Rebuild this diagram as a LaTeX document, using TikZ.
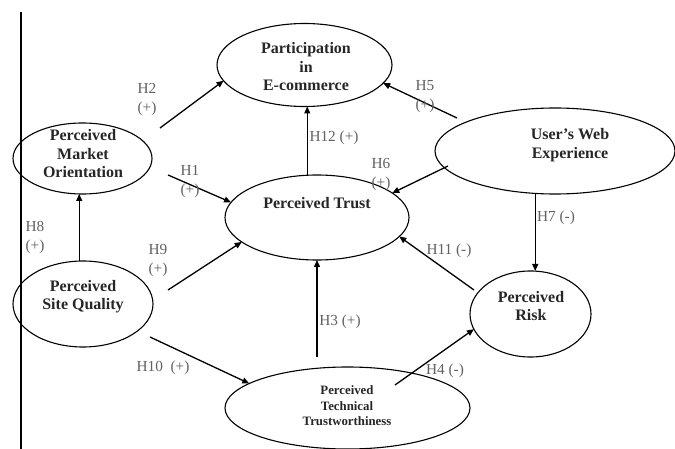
\documentclass[tikz,border=0pt]{standalone}
\usepackage{fontspec}
\setmainfont{Liberation Serif}
\usetikzlibrary{arrows.meta,shapes.geometric}
\begin{document}
\begin{tikzpicture}[x=1pt,y=-1pt,
 ell/.style={draw, ellipse, line width=1.1pt, inner sep=0pt, outer sep=0pt},
 ttl/.style={align=center, font=\fontsize{16}{18.5}\selectfont\bfseries, text=black!85, inner sep=0pt},
 smallttl/.style={align=center, font=\fontsize{12.8}{15.5}\selectfont\bfseries, text=black!85, inner sep=0pt},
 hyp/.style={font=\fontsize{15.3}{19}\selectfont, text=black!62, align=center, inner sep=0pt},
 arr/.style={line width=1.3pt, -{Triangle[length=7pt,width=6pt]}}]

\useasboundingbox (0,0) rectangle (675,449);

% frame line
\coordinate (vt) at (21,12);
\coordinate (vb) at (21,449);
\draw[line width=1.3pt] (vt) -- (vb);

% ellipses
\node[ell, minimum width=175pt, minimum height=83pt] (part) at (304.5,65) {};
\node[ttl] (partt) at (306,67) {Participation\\in\\E-commerce};

\node[ell, minimum width=139pt, minimum height=71pt] (mo) at (82.5,158.5) {};
\node[ttl] (mot) at (83,154) {Perceived\\Market\\Orientation};

\node[ell, minimum width=240pt, minimum height=86pt] (web) at (555,151) {};
\node[ttl] (webt) at (570,145) {User's Web\\Experience};

\node[ell, minimum width=184pt, minimum height=85pt] (trust) at (317,217.5) {};
\node[ttl] (trustt) at (317,203) {Perceived Trust};

\node[ell, minimum width=140pt, minimum height=86pt] (sq) at (83,304) {};
\node[ttl] (sqt) at (83,296.5) {Perceived\\Site Quality};

\node[ell, minimum width=121pt, minimum height=86pt] (risk) at (530.5,314) {};
\node[ttl] (riskt) at (531,306) {Perceived\\Risk};

\node[ell, minimum width=245pt, minimum height=82pt] (tech) at (347.5,408) {};
\node[smallttl] (techt) at (347,406) {Perceived\\Technical\\Trustworthiness};

% free start points
\coordinate (h2s) at (160,128);
\coordinate (h1s) at (168,175);
\coordinate (h5s) at (457,118);
\coordinate (h6s) at (448,166);
\coordinate (h9s) at (168,290);
\coordinate (h10s) at (150,337);
\coordinate (h3s) at (317,357);
\coordinate (h11s) at (474,290);
\coordinate (h4s) at (395,385);

% arrows
\draw[arr] (h2s) -- (part.191);
\draw[arr] (h5s) -- (part.347);
\draw[arr] (trust.103) -- (trust.103 |- part.south);
\draw[arr] (h1s) -- (trust.170);
\draw[arr] (h6s) -- (trust.18);
\draw[arr] (h9s) -- (trust.198);
\draw[arr] (h11s) -- (trust.347);
\draw[arr] (h3s) -- (h3s |- trust.south);
\draw[arr] (web.245) -- (web.245 |- risk.north);
\draw[arr] (sq.95) -- (sq.95 |- mo.south);
\draw[arr] (h10s) -- (tech.166);
\draw[arr] (h4s) -- (risk.195);

% hypothesis labels
\node[hyp] (l2) at (147,99.5) {H2\\(+)};
\node[hyp] (l1) at (190,181.5) {H1\\(+)};
\node[hyp] (l12) at (334,138) {H12 (+)};
\node[hyp] (l5) at (425,96.5) {H5\\(+)};
\node[hyp] (l6) at (381,175) {H6\\(+)};
\node[hyp] (l7) at (556,218) {H7 (-)};
\node[hyp] (l8) at (35,238) {H8\\(+)};
\node[hyp] (l9) at (158,261) {H9\\(+)};
\node[hyp] (l10) at (163,368) {H10~~(+)};
\node[hyp] (l3) at (340,322) {H3 (+)};
\node[hyp] (l11) at (449,251) {H11 (-)};
\node[hyp] (l4) at (445,371) {H4 (-)};
\end{tikzpicture}
\end{document}
